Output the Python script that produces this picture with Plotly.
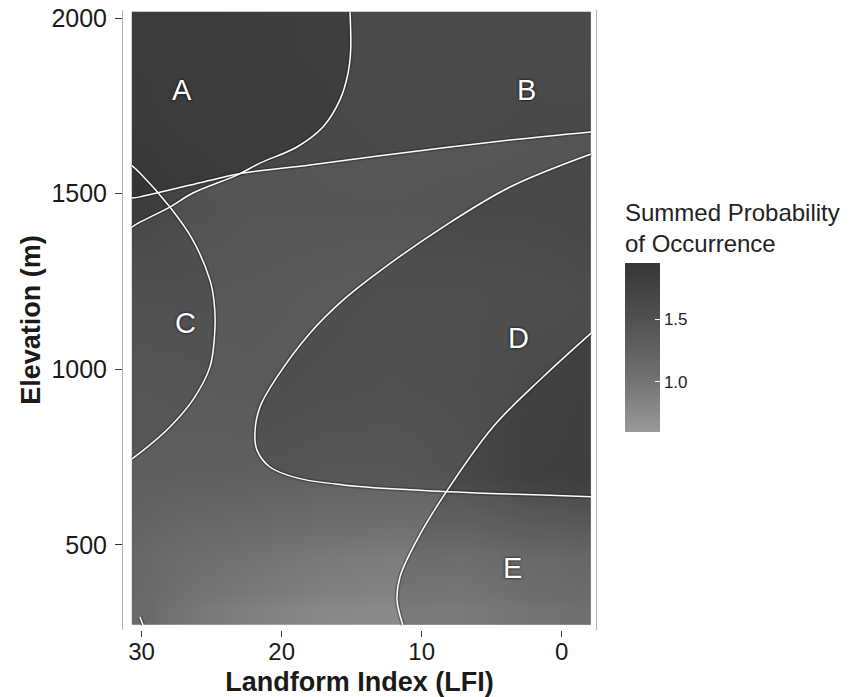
import plotly.graph_objects as go

# ---- data ----
# background field (outside the five zones): cell edges and estimated values
x_edges = [30.7, 28.5, 24.5, 19.5, 14.5, 9.5, 4.5, 0, -2.1]
y_edges = [272, 360, 575, 825, 1075, 1325, 1575, 1860, 2018]
z_rows = [
    [1.13, 0.98, 0.87, 0.78, 0.76, 0.76, 0.84, 0.87],
    [1.16, 1.08, 1.02, 0.95, 0.91, 0.89, 0.95, 0.98],
    [1.30, 1.29, 1.28, 1.25, 1.25, 1.30, 1.45, 1.49],
    [1.33, 1.34, 1.36, 1.33, 1.31, 1.33, 1.42, 1.45],
    [1.39, 1.39, 1.39, 1.36, 1.33, 1.33, 1.36, 1.38],
    [1.54, 1.48, 1.43, 1.43, 1.43, 1.45, 1.45, 1.48],
    [1.45, 1.43, 1.43, 1.42, 1.40, 1.40, 1.42, 1.42],
    [1.43, 1.43, 1.43, 1.40, 1.38, 1.38, 1.38, 1.38],
]

# zone boundary curves (LFI, elevation)
line_A_x = [15.12, 15.07, 15.26, 15.84, 17.05, 18.91, 21.55, 23.19, 26.34, 27.98, 30.12, 30.7]
line_A_y = [2017, 1909, 1843, 1767, 1690, 1633, 1587, 1553, 1502, 1462, 1419, 1405]
line_B_x = [-2.1, 3.69, 10.84, 17.98, 22.76, 24.41, 30.12, 30.7]
line_B_y = [1676, 1653, 1619, 1582, 1559, 1545, 1491, 1488]
line_C_x = [30.7, 30.12, 27.98, 26.34, 25.12, 24.84, 24.76, 25.12, 26.34, 27.98, 30.12, 30.7]
line_C_y = [1580, 1559, 1462, 1368, 1254, 1197, 1121, 1007, 913, 836, 762, 745]
line_D_x = [-2.1, 3.69, 8.48, 13.19, 15.62, 17.98, 20.34, 21.55, 21.91, 21.76, 20.84, 18.91, 15.62, 10.84, 6.05, 1.34, -2.1]
line_D_y = [1613, 1519, 1405, 1274, 1197, 1103, 978, 893, 819, 770, 722, 691, 671, 657, 648, 642, 637]
line_E_x = [-2.1, 1.34, 4.91, 8.48, 10.34, 11.55, 11.76, 11.34]
line_E_y = [1103, 978, 836, 637, 514, 409, 343, 272]
line_F_x = [30.12, 29.9]
line_F_y = [295, 272]

# extra probability shading of each zone (darkening strength)
zone_shade = {"A": 0.16, "B": 0.15, "C": 0.07, "D": 0.12, "E": 0.12}

labels = ["A", "B", "C", "D", "E"]
label_x = [27.12, 2.48, 26.9, 3.12, 3.48]
label_y = [1795, 1795, 1132, 1089, 435]

x_ticks = [30, 20, 10, 0]
y_ticks = [500, 1000, 1500, 2000]
cbar_ticks = [1.0, 1.5]

# ---- figure ----
X_MAX, X_MIN = x_edges[0], x_edges[-1]
Y_MIN, Y_MAX = y_edges[0], y_edges[-1]

fig = go.Figure()
fig.add_trace(go.Heatmap(
    x=x_edges, y=y_edges, z=z_rows, zsmooth="best",
    zmin=0.6, zmax=1.95,
    colorscale=[[0, "#9a9a9a"], [0.3, "#737373"], [0.67, "#505050"], [1, "#363636"]],
    colorbar=dict(
        title=dict(text="Summed Probability<br>of Occurrence", side="top",
                   font=dict(size=24, color="#222")),
        x=1.0613, xanchor="left", xpad=0, y=0.5065, yanchor="middle", ypad=0,
        len=0.374, lenmode="fraction", thickness=35, outlinewidth=0,
        tickvals=cbar_ticks, ticktext=["1.0", "1.5"], ticks="inside",
        tickcolor="white", ticklen=5, tickfont=dict(size=17, color="#222"),
    ),
    showscale=True, hoverinfo="skip",
))

# zone polygons closed along the heatmap edges
zones = {
    "A": (line_A_x + [X_MAX], line_A_y + [Y_MAX]),
    "B": (line_B_x + [X_MAX, X_MIN], line_B_y + [Y_MAX, Y_MAX]),
    "C": (line_C_x, line_C_y),
    "D": (line_D_x, line_D_y),
    "E": (line_E_x + [X_MIN], line_E_y + [Y_MIN]),
}
for name, (zx, zy) in zones.items():
    fig.add_trace(go.Scatter(x=zx, y=zy, mode="lines", fill="toself",
                             fillcolor=f"rgba(0,0,0,{zone_shade[name]})",
                             line=dict(width=0), showlegend=False, hoverinfo="skip"))

curves = [(line_A_x, line_A_y), (line_B_x, line_B_y), (line_C_x, line_C_y),
          (line_D_x, line_D_y), (line_E_x, line_E_y), (line_F_x, line_F_y)]
for lx, ly in curves:
    fig.add_trace(go.Scatter(x=lx, y=ly, mode="lines",
                             line=dict(color="rgba(20,20,20,0.3)", width=4.5, shape="spline"),
                             showlegend=False, hoverinfo="skip"))
for lx, ly in curves:
    fig.add_trace(go.Scatter(x=lx, y=ly, mode="lines",
                             line=dict(color="white", width=1.5, shape="spline"),
                             showlegend=False, hoverinfo="skip"))

for t, ax_, ay_ in zip(labels, label_x, label_y):
    fig.add_annotation(x=ax_, y=ay_, text=t, showarrow=False,
                       font=dict(size=29, color="white", family="Liberation Sans",
                                 shadow="0px 0px 3px #000"))

# page body adds an 8px margin, so the figure is 8px smaller and shifted
fig.update_layout(
    width=855, height=689,
    margin=dict(l=115, r=267, t=2, b=67),
    paper_bgcolor="white", plot_bgcolor="white",
    font=dict(family="Liberation Sans, Arial, sans-serif", color="#1a1a1a"),
    showlegend=False,
)
fig.update_xaxes(range=[31.33, -2.45], tickvals=x_ticks, ticks="outside", ticklen=6,
                 tickcolor="#333", showgrid=False, zeroline=False, automargin=False,
                 ticklabeloverflow="allow", ticklabelstandoff=-6,
                 tickfont=dict(size=24, color="#1a1a1a"),
                 title=dict(text="<b>Landform Index (LFI)</b>", font=dict(size=27), standoff=14))
fig.update_yaxes(range=[258, 2023], tickvals=y_ticks, ticks="outside", ticklen=7,
                 tickcolor="#333", showgrid=False, zeroline=False, automargin=False,
                 ticklabeloverflow="allow", ticklabelstandoff=3,
                 showline=True, mirror=True, linecolor="#b0b0b0", linewidth=1,
                 tickfont=dict(size=25, color="#1a1a1a"),
                 title=dict(text="<b>Elevation (m)</b>", font=dict(size=27), standoff=2))

fig.write_html("out.html")
